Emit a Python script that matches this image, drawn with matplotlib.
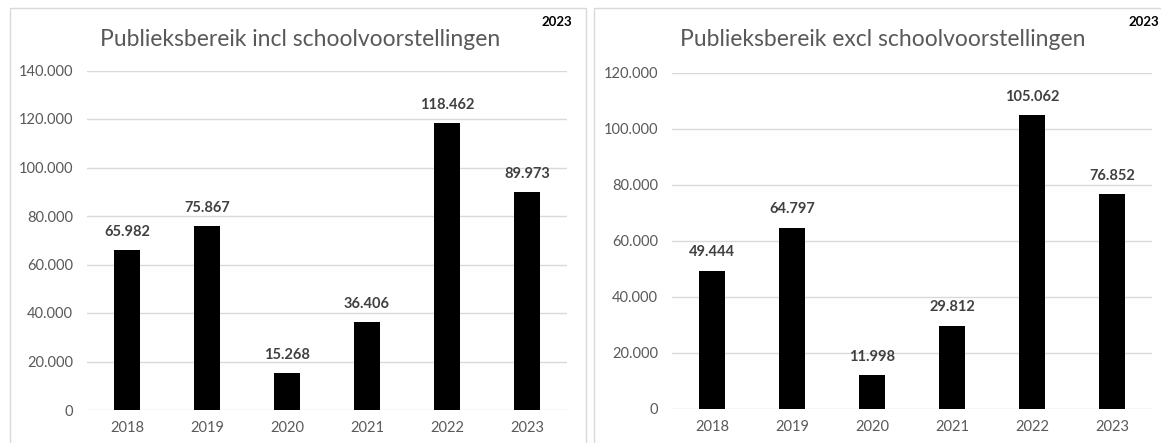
import matplotlib.pyplot as plt
from matplotlib.patches import Rectangle
from matplotlib.ticker import FuncFormatter

jaren = ['2018', '2019', '2020', '2021', '2022', '2023']
incl_school = [65982, 75867, 15268, 36406, 118462, 89973]
excl_school = [49444, 64797, 11998, 29812, 105062, 76852]

titel_incl = 'Publieksbereik incl schoolvoorstellingen'
titel_excl = 'Publieksbereik excl schoolvoorstellingen'
hoek_label = '2023'

plt.rcParams['font.family'] = ['Lato', 'DejaVu Sans']

W, H = 1161, 443
fig = plt.figure(figsize=(W / 100, H / 100), dpi=100, facecolor='w')


def px_axes(x0, x1, ytop, ybot):
    return fig.add_axes([x0 / W, 1 - ybot / H, (x1 - x0) / W, (ybot - ytop) / H])


def punt(v, pos=None):
    # Nederlandse duizendtallen
    return f'{int(v):,}'.replace(',', '.')


def paneel(ax, waarden, ymax, stap, titel, rand, titel_xy, hoek_x):
    fig.patches.append(Rectangle((rand[0] / W, -0.1), (rand[1] - rand[0]) / W, 1 - 8 / H + 0.1,
                                 transform=fig.transFigure, fill=False,
                                 edgecolor='#d9d9d9', linewidth=1))
    x = range(len(jaren))
    ax.bar(x, waarden, width=0.32, color='black', zorder=3)
    ax.set_xlim(-0.5, len(jaren) - 0.5)
    ax.set_ylim(0, ymax)
    ax.set_yticks(range(0, ymax + 1, stap))
    ax.yaxis.set_major_formatter(FuncFormatter(punt))
    ax.set_xticks(list(x))
    ax.set_xticklabels(jaren)
    ax.tick_params(length=0, colors='#595959', labelsize=10.5)
    ax.tick_params(axis='y', pad=10)
    ax.tick_params(axis='x', pad=8)
    ax.grid(axis='y', color='#d9d9d9', linewidth=1, zorder=0)
    for s in ax.spines.values():
        s.set_visible(False)
    ax.set_facecolor('none')
    for i, v in enumerate(waarden):
        ax.annotate(punt(v), (i, v), xytext=(0, 8), textcoords='offset points',
                    ha='center', va='bottom', fontsize=10.5, fontweight='bold',
                    color='#404040')
    fig.text(titel_xy[0] / W, 1 - titel_xy[1] / H, titel, ha='center', va='center',
             fontsize=16.5, color='#595959')
    fig.text(hoek_x / W, 1 - 22 / H, hoek_label, ha='right', va='center',
             fontsize=9.5, fontweight='bold', color='black')


ax1 = px_axes(87, 567, 70.5, 410)
paneel(ax1, incl_school, 140000, 20000, titel_incl, (10, 586), (300, 39), 572)

ax2 = px_axes(672, 1152, 73, 409)
paneel(ax2, excl_school, 120000, 20000, titel_excl, (594, 1175), (883, 40), 1159)

fig.savefig('out.png', dpi=100, facecolor='w')
